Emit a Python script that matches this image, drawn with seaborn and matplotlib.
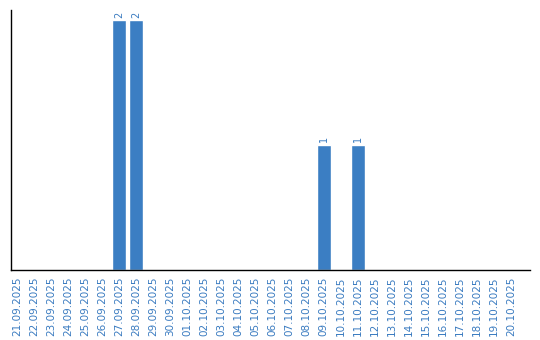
import matplotlib
matplotlib.use("Agg")
import matplotlib.pyplot as plt
import seaborn as sns
import pandas as pd

dates = ["21.09.2025", "22.09.2025", "23.09.2025", "24.09.2025", "25.09.2025",
         "26.09.2025", "27.09.2025", "28.09.2025", "29.09.2025", "30.09.2025",
         "01.10.2025", "02.10.2025", "03.10.2025", "04.10.2025", "05.10.2025",
         "06.10.2025", "07.10.2025", "08.10.2025", "09.10.2025", "10.10.2025",
         "11.10.2025", "12.10.2025", "13.10.2025", "14.10.2025", "15.10.2025",
         "16.10.2025", "17.10.2025", "18.10.2025", "19.10.2025", "20.10.2025"]
counts = [0, 0, 0, 0, 0, 0, 2, 2, 0, 0,
          0, 0, 0, 0, 0, 0, 0, 0, 1, 0,
          1, 0, 0, 0, 0, 0, 0, 0, 0, 0]

sns.set_style("white")
plt.rcParams['font.family'] = ['DejaVu Sans']

bar_color = "#3b7ec3"
text_color = "#3a7bc0"

df = pd.DataFrame({"date": dates, "count": counts})

fig = plt.figure(figsize=(5.4, 3.4), dpi=100)
ax = fig.add_axes([11/540, 1 - 270/340, (530 - 11)/540, (270 - 10)/340])
sns.barplot(data=df, x="date", y="count", color=bar_color, width=0.82,
            saturation=1, ax=ax, order=dates)

for i, v in enumerate(counts):
    if v > 0:
        ax.text(i, v + 0.02, str(v), rotation=90, ha="center", va="bottom",
                fontsize=7, color=text_color)

ax.set_xlim(-0.35, len(dates) - 1 + 1.1)
ax.set_ylim(0, 2.08)
ax.set_yticks([])
ax.set_xlabel("")
ax.set_ylabel("")
ax.tick_params(axis="x", length=0, pad=5, labelsize=7.5, labelcolor=text_color)
plt.setp(ax.get_xticklabels(), rotation=90)
for s in ["top", "right"]:
    ax.spines[s].set_visible(False)
for s in ["left", "bottom"]:
    ax.spines[s].set_color("black")
    ax.spines[s].set_linewidth(1.0)

fig.savefig("out.png", dpi=100)
